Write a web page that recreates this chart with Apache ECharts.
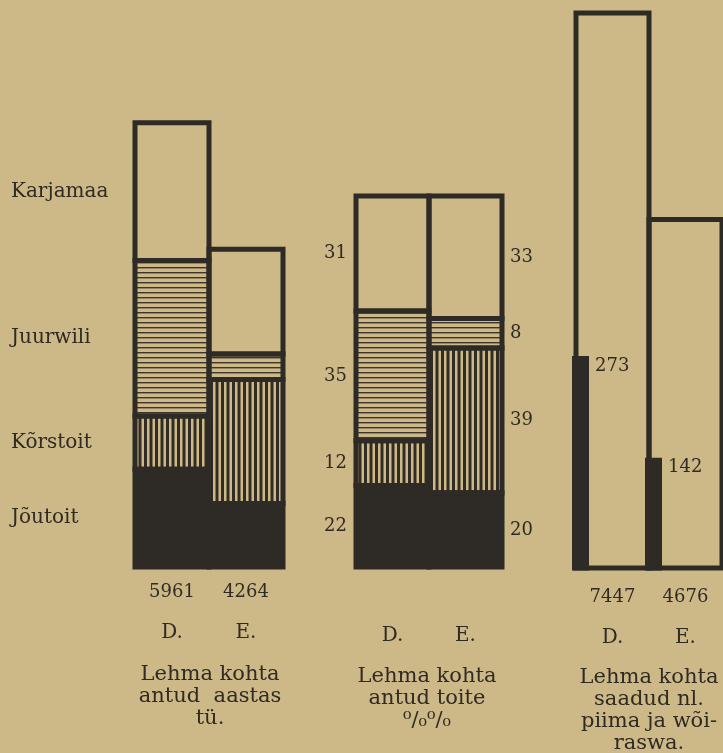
<!DOCTYPE html>
<html>
<head>
<meta charset="utf-8">
<script src="https://cdn.jsdelivr.net/npm/echarts@6/dist/echarts.min.js"></script>
<style>
html,body{margin:0;padding:0;background:#cdb887;}
#chart{width:723px;height:753px;}
</style>
</head>
<body>
<div id="chart"></div>
<script>
// ---- data ----
const feedTypes = ['Jõutoit', 'Kõrstoit', 'Juurwili', 'Karjamaa'];
const groups = ['D.', 'E.'];
const feedD = [1311, 715, 2087, 1848];      // tü per cow, D. (total 5961)
const feedE = [853, 1663, 341, 1407];       // tü per cow, E. (total 4264)
const feedTotals = [5961, 4264];
const pctD = [22, 12, 35, 31];
const pctE = [20, 39, 8, 33];
const milk = [7447, 4676];
const fat = [273, 142];
const titles = [
  ['Lehma kohta', 'antud  aastas', 'tü.'],
  ['Lehma kohta', 'antud toite', '⁰/₀⁰/₀'],
  ['Lehma kohta', 'saadud nl.', 'piima ja wõi-', 'raswa.']
];

// ---- styles ----
const BG = '#cdb887';
const INK = '#2e2a25';
const TEXT = '#2f2a22';
const FONT = '"DejaVu Serif", serif';
const BORDER = 5;

function hPattern() {
  const c = document.createElement('canvas');
  c.width = 8; c.height = 5;
  const g = c.getContext('2d');
  g.fillStyle = 'rgba(45,40,34,0.9)';
  g.fillRect(0, 2, 8, 1.4);
  return c;
}
function vPattern() {
  const c = document.createElement('canvas');
  c.width = 11; c.height = 8;
  const g = c.getContext('2d');
  g.fillStyle = 'rgba(40,36,31,0.95)';
  g.fillRect(1, 0, 3, 8);
  g.fillRect(6.5, 0, 3, 8);
  return c;
}
const fills = [INK, { image: vPattern(), repeat: 'repeat' }, { image: hPattern(), repeat: 'repeat' }, 'rgba(0,0,0,0)'];

// stacked rows [category, start, end, value] built from the arrays
function stackRows(colsPerCat) {
  const rows = feedTypes.map(() => []);
  colsPerCat.forEach((vals, cat) => {
    let acc = 0;
    vals.forEach((v, k) => { rows[k].push([cat, acc, acc + v, v]); acc += v; });
  });
  return rows;
}
const rows1 = stackRows([feedD, feedE]);
const rows2 = stackRows([pctD, pctE]);

function segRender(fill, labelMode, name) {
  return function (params, api) {
    const cat = api.value(0), s = api.value(1), e = api.value(2), v = api.value(3);
    const p0 = api.coord([cat, s]);
    const p1 = api.coord([cat, e]);
    const band = api.size([1, 0])[0];
    const x0 = p0[0] - band / 2;
    const children = [{
      type: 'rect',
      shape: { x: x0, y: p1[1], width: band, height: p0[1] - p1[1] },
      style: { fill: fill, stroke: INK, lineWidth: BORDER }
    }];
    const cy = (p0[1] + p1[1]) / 2;
    if (labelMode === 'names' && cat === 0) {
      children.push({ type: 'text', style: { text: name, x: 11, y: cy, align: 'left', verticalAlign: 'middle', fill: TEXT, font: '20px ' + FONT } });
    }
    if (labelMode === 'values') {
      if (cat === 0) children.push({ type: 'text', style: { text: String(v), x: x0 - 9, y: cy, align: 'right', verticalAlign: 'middle', fill: TEXT, font: '18px ' + FONT } });
      else children.push({ type: 'text', style: { text: String(v), x: x0 + band + 8, y: cy, align: 'left', verticalAlign: 'middle', fill: TEXT, font: '18px ' + FONT } });
    }
    return { type: 'group', children };
  };
}

const series = [];
feedTypes.forEach((name, i) => {
  series.push({
    type: 'custom', name, xAxisIndex: 0, yAxisIndex: 0, silent: true, z: 2 + (i === 3 ? 0 : 1),
    renderItem: segRender(fills[i], 'names', name), data: rows1[i]
  });
  series.push({
    type: 'custom', name, xAxisIndex: 1, yAxisIndex: 1, silent: true, z: 2 + (i === 3 ? 0 : 1),
    renderItem: segRender(fills[i], 'values', name), data: rows2[i]
  });
});
series.push({
  type: 'custom', name: 'piim', xAxisIndex: 2, yAxisIndex: 2, silent: true, z: 2,
  data: milk.map((v, i) => [i, 0, v, v]),
  renderItem: segRender('rgba(0,0,0,0)', 'none', 'piim')
});
series.push({
  type: 'custom', name: 'wõiraswa', xAxisIndex: 2, yAxisIndex: 3, silent: true, z: 5,
  data: fat.map((v, i) => [i, v]),
  renderItem(params, api) {
    const i = api.value(0), v = api.value(1);
    const base = api.coord([i, 0]);
    const top = api.coord([i, v]);
    const band = api.size([1, 0])[0];
    const x0 = base[0] - band / 2;
    return {
      type: 'group',
      children: [
        { type: 'rect', shape: { x: x0 - 4, y: top[1], width: 17, height: base[1] - top[1] + 2.5 }, style: { fill: INK } },
        { type: 'text', style: { text: String(v), x: x0 + 19, y: top[1] + 10, verticalAlign: 'middle', fill: TEXT, font: '18px ' + FONT } }
      ]
    };
  }
});

const axisBase = { type: 'category', data: groups, axisLine: { show: false }, axisTick: { show: false } };
const richLbl = (totals, margin) => ({
  margin,
  formatter: (v, i) => `{v|${totals[i]}}\n{c|${v}}`,
  rich: {
    v: { fontFamily: FONT, fontSize: 18, lineHeight: 24, color: TEXT },
    c: { fontFamily: FONT, fontSize: 20, lineHeight: 58, color: TEXT }
  }
});

const graphics = [];
const titlePos = [[210, 675], [427, 677], [649, 678]];
titles.forEach((lines, g) => {
  graphics.push({
    type: 'text', silent: true,
    x: titlePos[g][0], y: titlePos[g][1] - 11,
    style: { text: lines.join('\n'), align: 'center', verticalAlign: 'top', lineHeight: 22, fill: TEXT, font: '21px ' + FONT }
  });
});

const chart = echarts.init(document.getElementById('chart'), null, { renderer: 'canvas' });
chart.setOption({
  backgroundColor: BG,
  animation: false,
  grid: [
    { left: 135, width: 148, top: 8, bottom: 186 },
    { left: 356, width: 146, top: 196, bottom: 186 },
    { left: 576, width: 146, top: 9, bottom: 185 }
  ],
  xAxis: [
    Object.assign({ gridIndex: 0, axisLabel: richLbl(feedTotals, 13) }, axisBase),
    Object.assign({ gridIndex: 1, axisLabel: { margin: 57, fontFamily: FONT, fontSize: 20, lineHeight: 24, color: TEXT } }, axisBase),
    Object.assign({ gridIndex: 2, axisLabel: richLbl(milk, 17) }, axisBase)
  ],
  yAxis: [
    { gridIndex: 0, type: 'value', min: 0, max: 7500, show: false },
    { gridIndex: 1, type: 'value', min: 0, max: 100, show: false },
    { gridIndex: 2, type: 'value', min: 0, max: 7500, show: false },
    { gridIndex: 2, type: 'value', min: 0, max: 720, show: false }
  ],
  series,
  graphic: graphics
});
</script>
</body>
</html>
